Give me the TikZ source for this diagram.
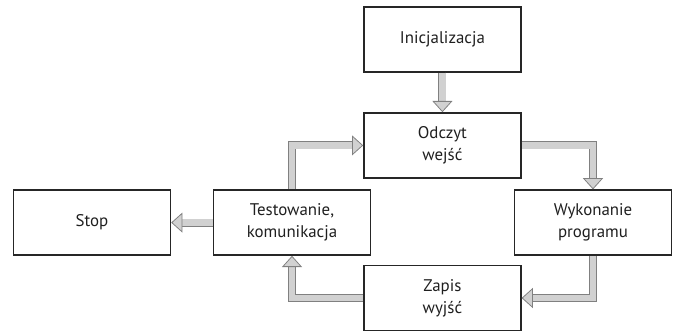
\documentclass[tikz,border=0pt]{standalone}
\usepackage{fontspec}
\setmainfont{PT Sans}
\usetikzlibrary{arrows.meta}

\begin{document}
\begin{tikzpicture}[
  stage/.style={draw=black!85,line width=1pt,minimum width=3.925cm,minimum height=1.625cm,
    align=center,inner sep=0pt,font=\fontsize{12}{15.6}\selectfont,text=black!88},
  flow/.style={draw=black!50,line width=0.55pt,double=black!18,double distance=4.6pt,line join=miter,
    -{Triangle[open,fill=black!18,length=0.28cm,width=0.5cm,line width=0.55pt]}}
]
  \useasboundingbox (0,0) rectangle (16.825,8.275);

  \node[stage] (init) at (11.06,7.29) {Inicjalizacja};
  \node[stage] (read) at (11.06,4.64) {Odczyt\\wejść};
  \node[stage] (exec) at (14.825,2.71) {Wykonanie\\programu};
  \node[stage] (write) at (11.06,0.825) {Zapis\\wyjść};
  \node[stage] (test) at (7.3,2.71) {Testowanie,\\komunikacja};
  \node[stage] (stop) at (2.3,2.71) {Stop};

  \draw[flow] (init) -- (read);
  \draw[flow] (read.east) -| (exec.north);
  \draw[flow] (exec.south) |- (write.east);
  \draw[flow] (write.west) -| (test.south);
  \draw[flow] (test.north) |- (read.west);
  \draw[flow] (test) -- (stop);
\end{tikzpicture}
\end{document}
